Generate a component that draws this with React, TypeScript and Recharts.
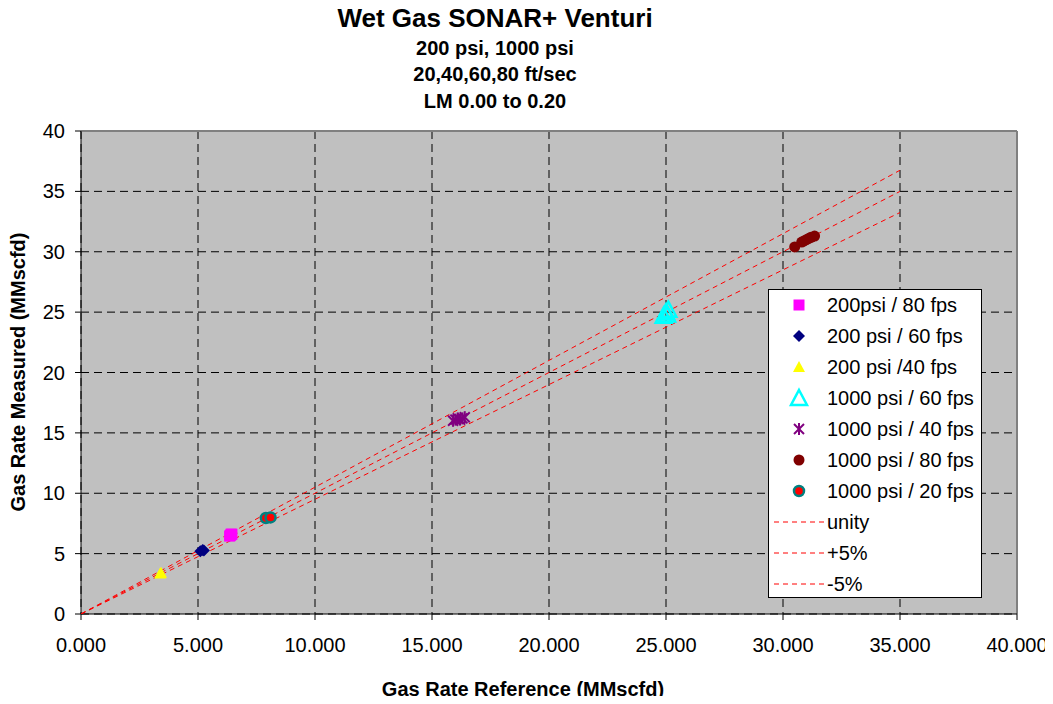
import {
  CartesianGrid,
  ReferenceLine,
  Scatter,
  ScatterChart,
  XAxis,
  YAxis,
} from 'recharts'

// values (MMscfd)
const psi200fps80 = [
  { x: 6.35, y: 6.45 },
  { x: 6.4, y: 6.55 },
  { x: 6.45, y: 6.6 },
  { x: 6.38, y: 6.5 },
  { x: 6.42, y: 6.62 },
]
const psi200fps60 = [
  { x: 5.1, y: 5.2 },
  { x: 5.2, y: 5.3 },
  { x: 5.25, y: 5.25 },
]
const psi200fps40 = [
  { x: 3.38, y: 3.35 },
  { x: 3.42, y: 3.42 },
]
const psi1000fps60 = [
  { x: 24.9, y: 24.7 },
  { x: 25.0, y: 25.0 },
  { x: 25.1, y: 25.2 },
  { x: 25.05, y: 24.8 },
]
const psi1000fps40 = [
  { x: 15.9, y: 16.0 },
  { x: 16.0, y: 16.1 },
  { x: 16.1, y: 16.2 },
  { x: 16.2, y: 16.1 },
  { x: 16.3, y: 16.2 },
  { x: 16.4, y: 16.3 },
]
const psi1000fps80 = [
  { x: 30.5, y: 30.4 },
  { x: 30.8, y: 30.8 },
  { x: 30.9, y: 30.9 },
  { x: 31.0, y: 31.0 },
  { x: 31.1, y: 31.1 },
  { x: 31.2, y: 31.2 },
  { x: 31.35, y: 31.3 },
]
const psi1000fps20 = [
  { x: 7.9, y: 7.95 },
  { x: 8.1, y: 8.0 },
]
const unity = [
  { x: 0, y: 0 },
  { x: 35, y: 35 },
]
const plus5 = [
  { x: 0, y: 0 },
  { x: 35, y: 36.75 },
]
const minus5 = [
  { x: 0, y: 0 },
  { x: 35, y: 33.25 },
]

const xTicks = [0, 5, 10, 15, 20, 25, 30, 35, 40]
const yTicks = [0, 5, 10, 15, 20, 25, 30, 35, 40]

const FONT = '"Liberation Sans", Arial, sans-serif'

type P = { cx?: number; cy?: number }

const Square = ({ cx = 0, cy = 0 }: P) => (
  <rect x={cx - 5.5} y={cy - 5.5} width={11} height={11} fill="#FF00FF" />
)
const Diamond = ({ cx = 0, cy = 0 }: P) => (
  <polygon points={`${cx},${cy - 6} ${cx + 6},${cy} ${cx},${cy + 6} ${cx - 6},${cy}`} fill="#000080" />
)
const TriFill = ({ cx = 0, cy = 0 }: P) => (
  <polygon points={`${cx},${cy - 6} ${cx + 6},${cy + 5} ${cx - 6},${cy + 5}`} fill="#FFFF00" />
)
const TriOpen = ({ cx = 0, cy = 0 }: P) => (
  <polygon
    points={`${cx},${cy - 8} ${cx + 8},${cy + 7} ${cx - 8},${cy + 7}`}
    fill="none"
    stroke="#00FFFF"
    strokeWidth={2.5}
  />
)
const Star = ({ cx = 0, cy = 0 }: P) => (
  <g stroke="#800080" strokeWidth={2}>
    <line x1={cx} y1={cy - 6} x2={cx} y2={cy + 6} />
    <line x1={cx - 5} y1={cy - 5} x2={cx + 5} y2={cy + 5} />
    <line x1={cx - 5} y1={cy + 5} x2={cx + 5} y2={cy - 5} />
  </g>
)
const Dot = ({ cx = 0, cy = 0 }: P) => <circle cx={cx} cy={cy} r={5.5} fill="#800000" />
const RingDot = ({ cx = 0, cy = 0 }: P) => (
  <circle cx={cx} cy={cy} r={5} fill="#FF0000" stroke="#008080" strokeWidth={2.5} />
)
const NoShape = () => <g />

const legendItems: { name: string; mark?: (p: P) => JSX.Element }[] = [
  { name: '200psi / 80 fps', mark: Square },
  { name: '200 psi / 60 fps', mark: Diamond },
  { name: '200 psi /40 fps', mark: TriFill },
  { name: '1000 psi / 60 fps', mark: TriOpen },
  { name: '1000 psi / 40 fps', mark: Star },
  { name: '1000 psi / 80 fps', mark: Dot },
  { name: '1000 psi / 20 fps', mark: RingDot },
  { name: 'unity' },
  { name: '+5%' },
  { name: '-5%' },
]

function LegendBox() {
  return (
    <div
      style={{
        position: 'absolute',
        left: 768,
        top: 289,
        width: 214,
        height: 309,
        background: '#fff',
        border: '1px solid #000',
        boxSizing: 'border-box',
        fontFamily: FONT,
        fontSize: 20,
      }}
    >
      {legendItems.map((it, i) => (
        <div
          key={it.name}
          style={{ position: 'absolute', top: i * 31, left: 0, height: 31, width: 212 }}
        >
          <svg width={56} height={31} style={{ position: 'absolute', left: 0, top: 0 }}>
            {it.mark ? (
              <it.mark cx={30} cy={15} />
            ) : (
              <line x1={5} y1={15} x2={55} y2={15} stroke="#FF0000" strokeDasharray="5 4" />
            )}
          </svg>
          <span style={{ position: 'absolute', left: 58, top: 4, lineHeight: '23px' }}>{it.name}</span>
        </div>
      ))}
    </div>
  )
}

const titleStyle = {
  position: 'absolute' as const,
  left: 0,
  width: 990,
  textAlign: 'center' as const,
  fontWeight: 'bold' as const,
  fontFamily: FONT,
}

export default function App() {
  return (
    <div style={{ position: 'relative', width: 1053, height: 704, margin: -8, background: '#fff' }}>
      <div style={{ ...titleStyle, top: 3, fontSize: 26, lineHeight: '30px' }}>Wet Gas SONAR+ Venturi</div>
      <div style={{ ...titleStyle, top: 37, fontSize: 20, lineHeight: '23px' }}>200 psi, 1000 psi</div>
      <div style={{ ...titleStyle, top: 63, fontSize: 20, lineHeight: '23px' }}>20,40,60,80 ft/sec</div>
      <div style={{ ...titleStyle, top: 90, fontSize: 20, lineHeight: '23px' }}>LM 0.00 to 0.20</div>
      <ScatterChart
        width={1053}
        height={704}
        margin={{ top: 131, right: 36, bottom: 60, left: 0 }}
        style={{ position: 'absolute', left: 0, top: 0 }}
      >
        <CartesianGrid fill="#C0C0C0" stroke="#000" strokeDasharray="8 5" />
        <XAxis
          type="number"
          dataKey="x"
          domain={[0, 40]}
          ticks={xTicks}
          height={30}
          stroke="#000"
          tickSize={6}
          tickMargin={18}
          tick={{ fill: '#000', fontSize: 20, fontFamily: FONT }}
          tickFormatter={(v: number) => v.toFixed(3)}
          allowDataOverflow
        />
        <YAxis
          type="number"
          dataKey="y"
          domain={[0, 40]}
          ticks={yTicks}
          width={81}
          stroke="#000"
          tickSize={6}
          tickMargin={10}
          tick={{ fill: '#000', fontSize: 20, fontFamily: FONT }}
          allowDataOverflow
        />
        <ReferenceLine y={40} stroke="#808080" strokeWidth={2} />
        <ReferenceLine x={40} stroke="#808080" strokeWidth={2} />
        <Scatter data={unity} line={{ stroke: '#FF0000', strokeDasharray: '5 4', strokeWidth: 1 }} shape={NoShape} isAnimationActive={false} />
        <Scatter data={plus5} line={{ stroke: '#FF0000', strokeDasharray: '5 4', strokeWidth: 1 }} shape={NoShape} isAnimationActive={false} />
        <Scatter data={minus5} line={{ stroke: '#FF0000', strokeDasharray: '5 4', strokeWidth: 1 }} shape={NoShape} isAnimationActive={false} />
        <Scatter data={psi200fps80} shape={Square} isAnimationActive={false} />
        <Scatter data={psi200fps60} shape={Diamond} isAnimationActive={false} />
        <Scatter data={psi200fps40} shape={TriFill} isAnimationActive={false} />
        <Scatter data={psi1000fps60} shape={TriOpen} isAnimationActive={false} />
        <Scatter data={psi1000fps40} shape={Star} isAnimationActive={false} />
        <Scatter data={psi1000fps80} shape={Dot} isAnimationActive={false} />
        <Scatter data={psi1000fps20} shape={RingDot} isAnimationActive={false} />
      </ScatterChart>
      <LegendBox />
      <div
        style={{
          position: 'absolute',
          left: 0,
          width: 1046,
          top: 678,
          textAlign: 'center',
          fontWeight: 'bold',
          fontSize: 20,
          lineHeight: '23px',
          fontFamily: FONT,
        }}
      >
        Gas Rate Reference (MMscfd)
      </div>
      <div
        style={{
          position: 'absolute',
          left: 18,
          top: 372,
          transform: 'translate(-50%, -50%) rotate(-90deg)',
          whiteSpace: 'nowrap',
          fontWeight: 'bold',
          fontSize: 20,
          lineHeight: '23px',
          fontFamily: FONT,
        }}
      >
        Gas Rate Measured (MMscfd)
      </div>
    </div>
  )
}
